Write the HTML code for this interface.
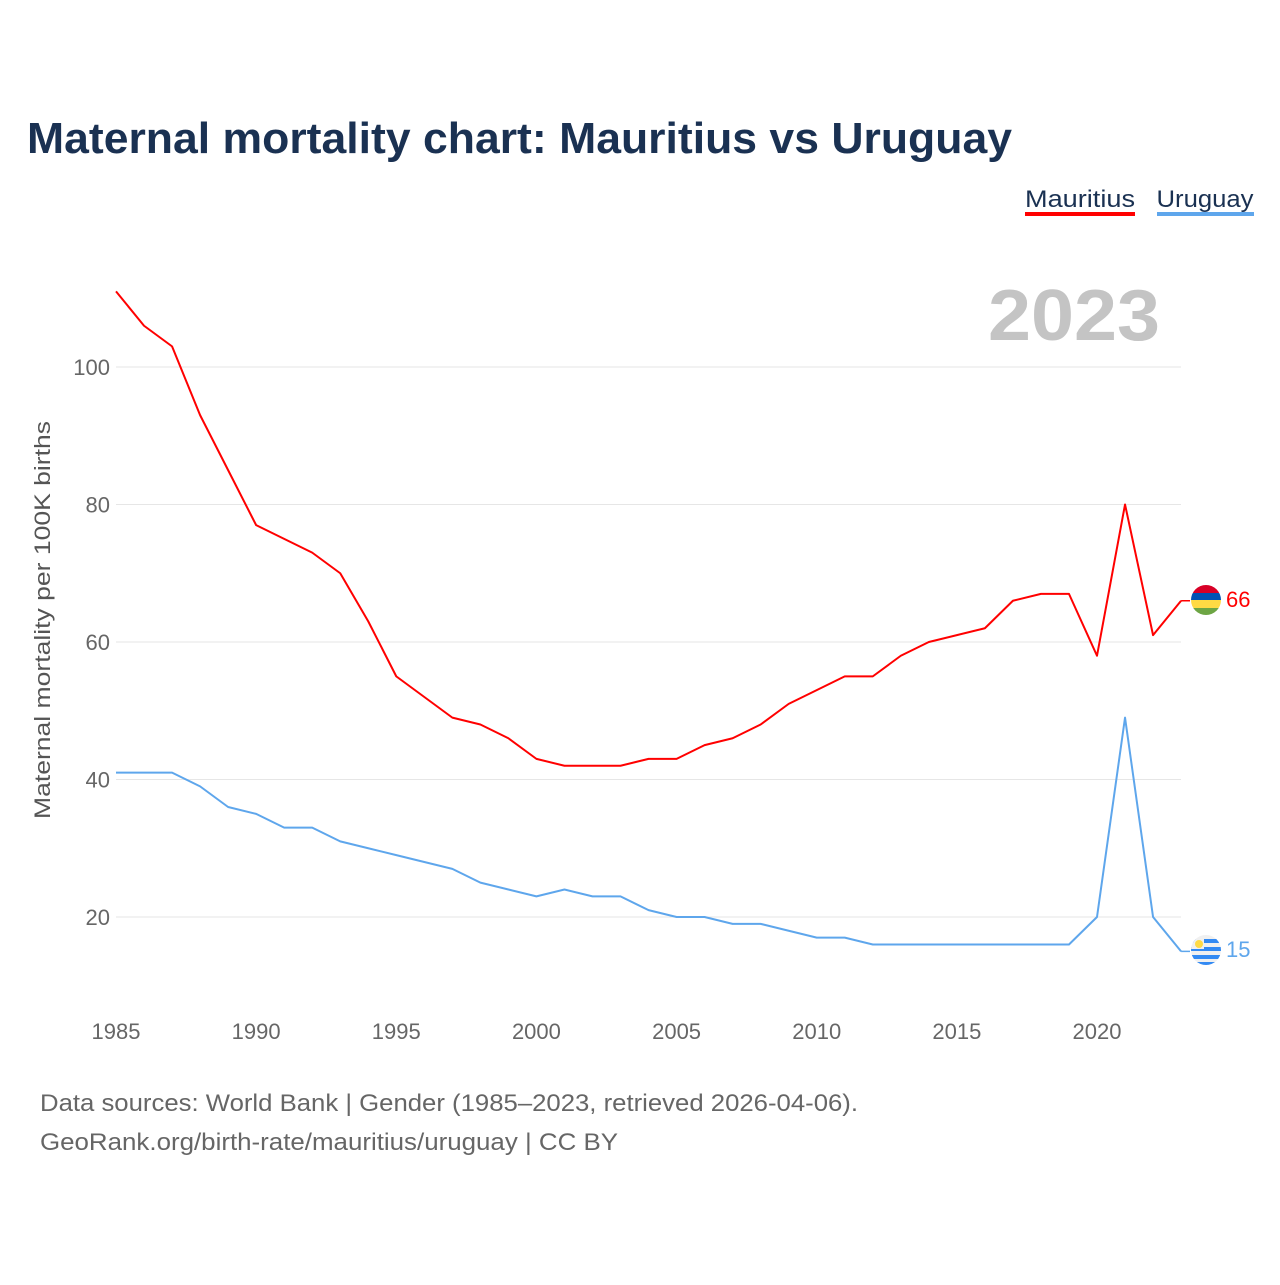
<!DOCTYPE html>
<html><head><meta charset="utf-8"><style>
body{margin:0;background:#fff;width:1280px;height:1280px;overflow:hidden;font-family:"Liberation Sans",sans-serif}
</style></head><body>
<svg width="1280" height="1280" xmlns="http://www.w3.org/2000/svg">
<defs>
<clipPath id="c1"><circle cx="1206" cy="600" r="15"/></clipPath>
<clipPath id="c2"><circle cx="1206" cy="950" r="15"/></clipPath>
</defs>
<text x="27" y="153" font-size="44" font-weight="bold" fill="#1a3152" textLength="985" lengthAdjust="spacingAndGlyphs">Maternal mortality chart: Mauritius vs Uruguay</text>
<g><text x="1080" y="207" font-size="24" fill="#1a3152" text-anchor="middle" textLength="110" lengthAdjust="spacingAndGlyphs">Mauritius</text><rect x="1025" y="212" width="110" height="4" fill="#ff0000"/></g>
<g><text x="1205" y="207" font-size="24" fill="#1a3152" text-anchor="middle" textLength="97" lengthAdjust="spacingAndGlyphs">Uruguay</text><rect x="1157" y="212" width="97" height="4" fill="#5ea6ec"/></g>
<text x="1160" y="340" font-size="72" font-weight="bold" fill="#c4c4c4" text-anchor="end" textLength="172" lengthAdjust="spacingAndGlyphs">2023</text>
<g id="grid"></g>
<g id="xt"></g>
<text transform="translate(50,620) rotate(-90)" font-size="22" fill="#555" text-anchor="middle" textLength="398" lengthAdjust="spacingAndGlyphs">Maternal mortality per 100K births</text>
<g id="lines"></g>
<g clip-path="url(#c1)"><rect x="1190" y="585" width="32" height="8" fill="#d80027"/><rect x="1190" y="593" width="32" height="7" fill="#0052b4"/><rect x="1190" y="600" width="32" height="8" fill="#ffda44"/><rect x="1190" y="608" width="32" height="8" fill="#6da544"/></g>
<g clip-path="url(#c2)"><rect x="1190" y="935" width="32" height="32" fill="#f0f0f0"/><rect x="1190" y="939" width="32" height="4" fill="#338af3"/><rect x="1190" y="947" width="32" height="4" fill="#338af3"/><rect x="1190" y="955" width="32" height="4" fill="#338af3"/><rect x="1190" y="962" width="32" height="4" fill="#338af3"/><rect x="1190" y="935" width="14" height="14" fill="#f0f0f0"/><circle cx="1199" cy="944" r="4" fill="#ffda44"/></g>
<text x="1226" y="607" font-size="22" fill="#ff0000">66</text>
<text x="1226" y="957" font-size="22" fill="#5ea6ec">15</text>
<text x="40" y="1111" font-size="24" fill="#666" textLength="818" lengthAdjust="spacingAndGlyphs">Data sources: World Bank | Gender (1985–2023, retrieved 2026-04-06).</text>
<text x="40" y="1150" font-size="24" fill="#666" textLength="578" lengthAdjust="spacingAndGlyphs">GeoRank.org/birth-rate/mauritius/uruguay | CC BY</text>
</svg>
<script>
const years=[];for(let y=1985;y<=2023;y++)years.push(y);
const mauritius=[111,106,103,93,85,77,75,73,70,63,55,52,49,48,46,43,42,42,42,43,43,45,46,48,51,53,55,55,58,60,61,62,66,67,67,58,80,61,66];
const uruguay=[41,41,41,39,36,35,33,33,31,30,29,28,27,25,24,23,24,23,23,21,20,20,19,19,18,17,17,16,16,16,16,16,16,16,16,20,49,20,15];
const yTicks=[20,40,60,80,100];
const xTicks=[1985,1990,1995,2000,2005,2010,2015,2020];
const X=y=>116+(y-1985)*(1097-116)/35;
const Y=v=>1054.5-v*6.875;
const NS="http://www.w3.org/2000/svg";
const g=document.getElementById('grid'),xt=document.getElementById('xt'),L=document.getElementById('lines');
function mk(t,a,p){const e=document.createElementNS(NS,t);for(const k in a)e.setAttribute(k,a[k]);p.appendChild(e);return e;}
yTicks.forEach(v=>{
const l=mk('line',{x1:116,x2:1181,y1:Y(v),y2:Y(v),stroke:'#e6e6e6','stroke-width':1},g);


const t=mk('text',{x:110,y:Y(v)+8,'font-size':22,fill:'#666','text-anchor':'end'},g);t.textContent=v;


});
xTicks.forEach(v=>{
const t=mk('text',{x:X(v),y:1039,'font-size':22,fill:'#666','text-anchor':'middle'},xt);t.textContent=v;


});
function line(d,c,n){
const p=mk('polyline',{points:d.map((v,i)=>X(years[i])+','+Y(v)).join(' '),fill:'none',stroke:c,'stroke-width':2,'stroke-linejoin':'round'},L);


const last=d[d.length-1];
mk('line',{x1:X(2023),x2:1190,y1:Y(last),y2:Y(last),stroke:c,'stroke-width':1.5},L);
}
line(mauritius,'#ff0000','line-mauritius');
line(uruguay,'#5ea6ec','line-uruguay');
</script>
</body></html>
